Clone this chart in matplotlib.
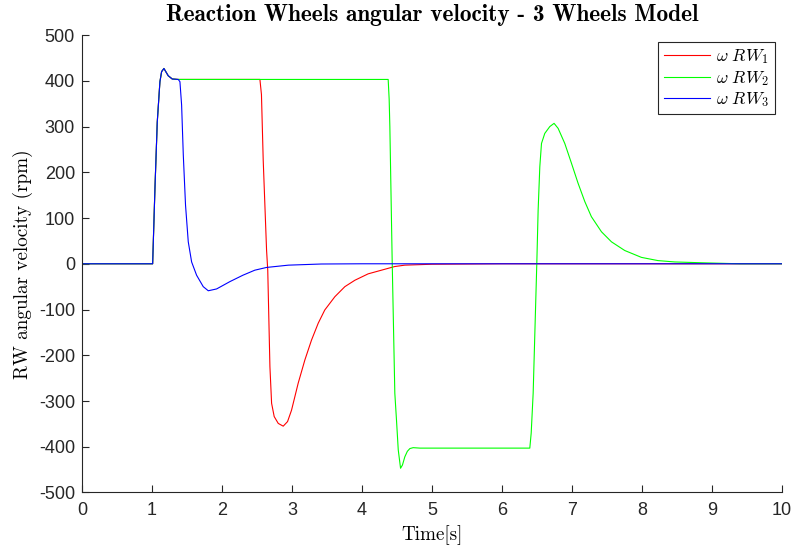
import matplotlib
matplotlib.use('Agg')
import matplotlib.pyplot as plt
import matplotlib.font_manager as fm
import os

plt.rcParams['mathtext.fontset'] = 'cm'
plt.rcParams['axes.unicode_minus'] = False

# values (time in s, speed in rpm)
t_rw1 = [0, 1.01, 1.043, 1.076, 1.114, 1.138, 1.171, 1.233, 1.29, 1.376, 2.543,
         2.565, 2.59, 2.638, 2.655, 2.67, 2.686, 2.71, 2.747, 2.805, 2.876,
         2.938, 2.995, 3.09, 3.186, 3.28, 3.376, 3.47, 3.614, 3.757, 3.9, 4.09,
         4.28, 4.47, 4.614, 5.0, 6.0, 10]
w_rw1 = [0, 0, 165, 310, 398, 420, 427, 411, 404, 403, 403,
         370, 227, 30, -14, -116, -225, -305, -334, -349, -355,
         -345, -320, -261, -210, -167, -130, -101, -72, -50, -36, -22,
         -14, -6, -3, -1, 0, 0]

t_rw2 = [0, 1.01, 1.043, 1.076, 1.114, 1.138, 1.171, 1.233, 1.29, 1.376, 4.376,
         4.39, 4.4, 4.433, 4.471, 4.495, 4.52, 4.553, 4.58, 4.614, 4.65, 4.686,
         4.733, 4.83, 6.4, 6.42, 6.448, 6.5, 6.519, 6.543, 6.567, 6.614, 6.686,
         6.747, 6.805, 6.9, 6.995, 7.09, 7.186, 7.28, 7.424, 7.567, 7.757,
         7.995, 8.23, 8.47, 8.9, 9.4, 10]
w_rw2 = [0, 0, 165, 310, 398, 420, 427, 411, 404, 403, 403,
         360, 300, 8, -283, -342, -407, -447, -440, -422, -410, -404,
         -402, -403, -403, -370, -283, 0, 117, 212, 263, 285, 300,
         307, 296, 263, 220, 176, 136, 103, 70, 48, 29,
         14, 7, 4, 2, 0, 0]

t_rw3 = [0, 1.01, 1.043, 1.076, 1.114, 1.138, 1.171, 1.233, 1.29, 1.376, 1.4,
         1.424, 1.448, 1.48, 1.519, 1.567, 1.638, 1.733, 1.805, 1.924, 2.114,
         2.3, 2.47, 2.638, 2.95, 3.42, 4.0, 10]
w_rw3 = [0, 0, 165, 310, 398, 420, 427, 411, 404, 403, 398,
         347, 238, 128, 48, 4, -25, -50, -59, -55, -39,
         -25, -14, -8, -3, -0.5, 0, 0]

labels = [r'$\omega\ RW_1$', r'$\omega\ RW_2$', r'$\omega\ RW_3$']
colors = ['#ff0000', '#00ff00', '#0000ff']

fdir = os.path.join(matplotlib.get_data_path(), 'fonts', 'ttf')
cmr = fm.FontProperties(fname=os.path.join(fdir, 'cmr10.ttf'), size=13.8)
cmb = fm.FontProperties(fname=os.path.join(fdir, 'cmb10.ttf'), size=16.8)

fig = plt.figure(figsize=(7.92, 5.48), dpi=100)
ax = fig.add_axes([0.1035, 0.1013, 0.8835, 0.8347])

for t, w, lab, c in zip([t_rw1, t_rw2, t_rw3], [w_rw1, w_rw2, w_rw3], labels, colors):
    ax.plot(t, w, color=c, lw=0.8, label=lab)

ax.set_xlim(0, 10)
ax.set_ylim(-500, 500)
ax.set_xticks(range(0, 11))
ax.set_yticks(range(-500, 501, 100))
ax.spines['top'].set_visible(False)
ax.spines['right'].set_visible(False)
for s in ['left', 'bottom']:
    ax.spines[s].set_color('#262626')
    ax.spines[s].set_linewidth(0.8)
ax.tick_params(direction='in', length=5, width=0.8, colors='#262626',
               labelsize=13, pad=5)
ax.tick_params(axis='x', pad=7)
for lbl in ax.get_xticklabels() + ax.get_yticklabels():
    lbl.set_family(['Liberation Sans', 'DejaVu Sans'])

ax.set_xlabel('Time[s]', fontproperties=cmr, labelpad=4)
ax.set_ylabel('RW angular velocity (rpm)', fontproperties=cmr, labelpad=4)
ax.set_title('Reaction Wheels angular velocity - 3 Wheels Model',
             fontproperties=cmb, pad=10)

leg = ax.legend(loc='upper right', fontsize=12.5, fancybox=False, framealpha=1,
                edgecolor='#262626', handlelength=2.7, handletextpad=0.35,
                borderpad=0.3, labelspacing=0.15, borderaxespad=0.4)
leg.get_frame().set_linewidth(0.8)

fig.savefig('out.png', dpi=100)
